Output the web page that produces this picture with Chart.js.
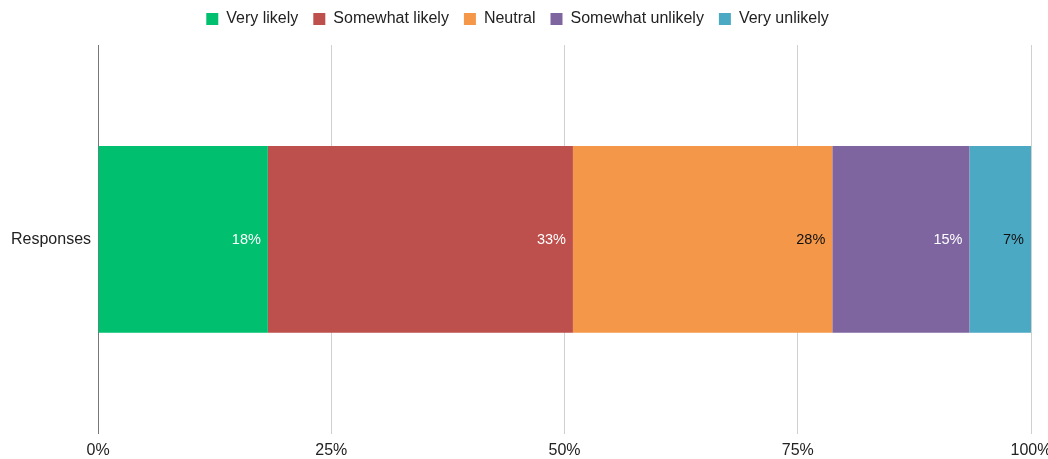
<!DOCTYPE html>
<html>
<head>
<meta charset="utf-8">
<script src="https://cdn.jsdelivr.net/npm/chart.js@4"></script>
<style>
  html, body { margin: 0; padding: 0; background: #fff; overflow: hidden; }
  #wrap { width: 1048px; height: 459px; }
</style>
</head>
<body>
<div id="wrap"><canvas id="likelyChart"></canvas></div>
<script>
// answer categories and their share of responses (%)
const categories = ['Responses'];
const answers = ['Very likely', 'Somewhat likely', 'Neutral', 'Somewhat unlikely', 'Very unlikely'];
const shares = [18.2, 32.7, 27.8, 14.7, 6.6];
const tickLabels = ['0%', '25%', '50%', '75%', '100%'];

const colors = ['#00bf6f', '#bd4f4c', '#f49749', '#7e65a0', '#4ba9c4'];
const labelColors = ['#ffffff', '#ffffff', '#111111', '#ffffff', '#111111'];
const fontFamily = '"Liberation Sans", Arial, sans-serif';

// percent text at the right end of each segment
const segmentLabels = {
    id: 'segmentLabels',
    afterDatasetsDraw(chart) {
        const ctx = chart.ctx;
        ctx.save();
        ctx.font = '14.5px ' + fontFamily;
        ctx.textAlign = 'right';
        ctx.textBaseline = 'middle';
        chart.data.datasets.forEach((ds, i) => {
            chart.getDatasetMeta(i).data.forEach((bar, j) => {
                ctx.fillStyle = labelColors[i];
                ctx.fillText(Math.round(ds.data[j]) + '%', bar.x - 7, bar.y + 1);
            });
        });
        ctx.restore();
    }
};

// extra room between the legend and the plot
const legendGap = {
    id: 'legendGap',
    beforeInit(chart) {
        const fit = chart.legend.fit;
        chart.legend.fit = function() {
            fit.bind(chart.legend)();
            this.height += 8;
        };
    }
};

new Chart(document.getElementById('likelyChart'), {
    type: 'bar',
    data: {
        labels: categories,
        datasets: answers.map((name, i) => ({
            label: name,
            data: [shares[i]],
            backgroundColor: colors[i],
            borderWidth: 0,
            barPercentage: 0.6,
            categoryPercentage: 0.8
        }))
    },
    options: {
        indexAxis: 'y',
        responsive: true,
        maintainAspectRatio: false,
        animation: false,
        layout: { padding: { top: -4, right: 17, left: 4, bottom: -8 } },
        scales: {
            x: {
                stacked: true,
                min: 0,
                max: 100,
                afterBuildTicks(axis) {
                    axis.ticks = tickLabels.map((t, i) => ({ value: i * 25 }));
                },
                // let the last tick label run off the edge instead of shrinking the plot
                afterFit(axis) {
                    axis.paddingRight = 0;
                },
                ticks: {
                    color: '#222',
                    font: { family: fontFamily, size: 16 },
                    padding: 7,
                    maxRotation: 0,
                    callback: (v, i) => tickLabels[i]
                },
                grid: { color: '#d0d0d0', tickLength: 0 },
                border: { display: false }
            },
            y: {
                stacked: true,
                ticks: {
                    color: '#222',
                    font: { family: fontFamily, size: 16 },
                    padding: 7
                },
                grid: { display: false, tickLength: 0 },
                border: { color: '#777', width: 1 }
            }
        },
        plugins: {
            legend: {
                position: 'top',
                labels: {
                    color: '#222',
                    font: { family: fontFamily, size: 16 },
                    boxWidth: 12,
                    boxHeight: 12,
                    padding: 15
                }
            },
            tooltip: { enabled: false }
        }
    },
    plugins: [segmentLabels, legendGap]
});
</script>
</body>
</html>
